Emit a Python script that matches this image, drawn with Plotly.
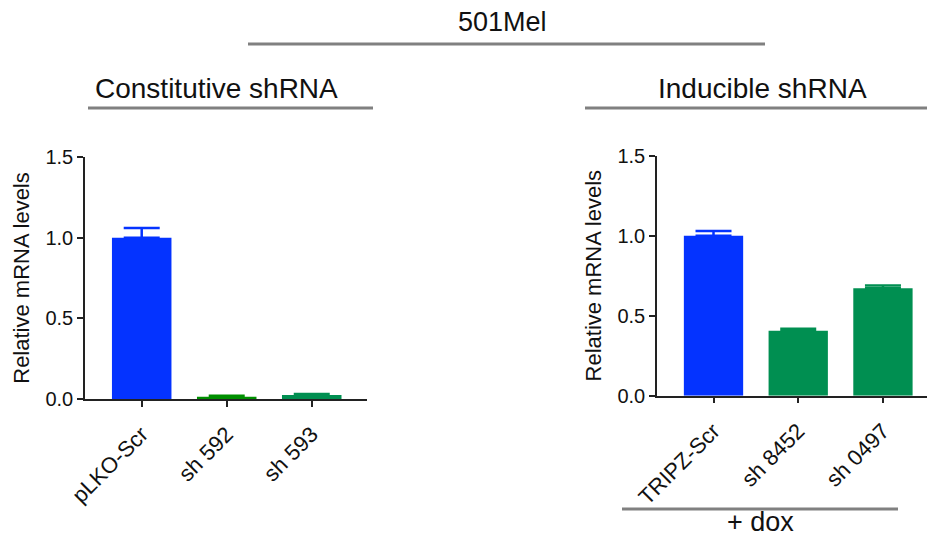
import plotly.graph_objects as go

W, H = 927, 541

# Data
const_labels = ["pLKO-Scr", "sh 592", "sh 593"]
const_values = [1.0, 0.014, 0.025]
const_errors = [0.06, 0.006, 0.006]
const_colors = ["#0433FF", "#008F00", "#008F51"]

induc_labels = ["TRIPZ-Scr", "sh 8452", "sh 0497"]
induc_values = [1.0, 0.406, 0.671]
induc_errors = [0.03, 0.013, 0.017]
induc_colors = ["#0433FF", "#008F51", "#008F51"]

y_ticks = [0.0, 0.5, 1.0, 1.5]
y_ticklabels = ["0.0", "0.5", "1.0", "1.5"]

FONT = "Liberation Sans, Arial, Helvetica, sans-serif"

fig = go.Figure()

for lab, v, e, c in zip(const_labels, const_values, const_errors, const_colors):
    fig.add_trace(go.Bar(
        x=[lab], y=[v], xaxis="x", yaxis="y", width=0.7,
        marker=dict(color=c, line=dict(width=0)),
        error_y=dict(type="data", array=[e], arrayminus=[0], symmetric=False,
                     color=c, thickness=2.5, width=18),
        showlegend=False, hoverinfo="skip"))

for lab, v, e, c in zip(induc_labels, induc_values, induc_errors, induc_colors):
    fig.add_trace(go.Bar(
        x=[lab], y=[v], xaxis="x2", yaxis="y2", width=0.7,
        marker=dict(color=c, line=dict(width=0)),
        error_y=dict(type="data", array=[e], arrayminus=[0], symmetric=False,
                     color=c, thickness=2.5, width=18),
        showlegend=False, hoverinfo="skip"))

def px_x(p):
    return p / W

def px_y(p):
    return 1 - p / H

axis_common = dict(
    showgrid=False, zeroline=False, showline=True, linecolor="#222", linewidth=1.5,
    ticks="outside", ticklen=6, tickwidth=1.5, tickcolor="#222", automargin=False,
)
xfont = dict(family=FONT, size=22, color="#111")
yfont = dict(family=FONT, size=20, color="#111")
tfont = dict(family=FONT, size=22, color="#111")

fig.update_layout(
    width=W, height=H,
    margin=dict(l=0, r=0, t=0, b=0, autoexpand=False),
    paper_bgcolor="white", plot_bgcolor="white",
    barmode="overlay",
    xaxis=dict(domain=[px_x(85), px_x(367)], anchor="y", type="category",
               categoryorder="array", categoryarray=const_labels,
               range=[-0.667, 2.65], tickangle=-45, tickfont=xfont,
               ticklabelstandoff=6, **axis_common),
    yaxis=dict(domain=[px_y(399), px_y(157)], anchor="x", range=[0, 1.5],
               tickvals=y_ticks, ticktext=y_ticklabels, tickfont=yfont,
               title=dict(text="Relative mRNA levels", font=tfont, standoff=10),
               **axis_common),
    xaxis2=dict(domain=[px_x(657), 1.0], anchor="y2", type="category",
                categoryorder="array", categoryarray=induc_labels,
                range=[-0.667, 2.52], tickangle=-45, tickfont=xfont,
                ticklabelstandoff=6, **axis_common),
    yaxis2=dict(domain=[px_y(395.7), px_y(155.7)], anchor="x2", range=[0, 1.5],
                tickvals=y_ticks, ticktext=y_ticklabels, tickfont=yfont,
                title=dict(text="Relative mRNA levels", font=tfont, standoff=10),
                **axis_common),
)

# Header texts
texts = [
    ("501Mel", 502, 22, 27),
    ("Constitutive shRNA", 216, 88, 28),
    ("Inducible shRNA", 762, 88, 28),
    ("+ dox", 760, 522, 27),
]
for t, x, y, s in texts:
    fig.add_annotation(text=t, x=px_x(x), y=px_y(y), xref="paper", yref="paper",
                       showarrow=False, xanchor="center", yanchor="middle",
                       font=dict(family=FONT, size=s, color="#111"))

# Header lines
lines = [
    (248, 765, 44),
    (88, 373, 108),
    (585, 927, 108),
    (622, 898, 509),
]
for x0, x1, y in lines:
    fig.add_shape(type="line", xref="paper", yref="paper",
                  x0=px_x(x0), x1=px_x(x1), y0=px_y(y), y1=px_y(y),
                  line=dict(color="#808080", width=3))

fig.write_html(
    "out.html",
    config={"displayModeBar": False},
    post_script="document.body.style.margin='0';document.body.style.overflow='hidden';",
)
